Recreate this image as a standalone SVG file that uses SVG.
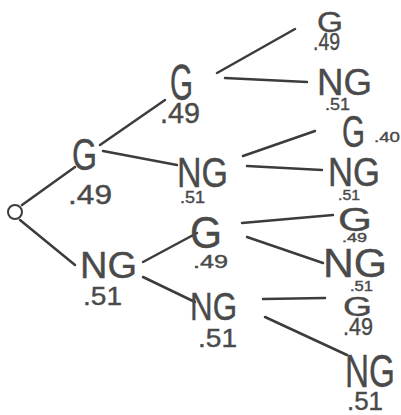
<svg xmlns="http://www.w3.org/2000/svg" width="401" height="415" viewBox="0 0 401 415">
<style>
text{font-family:"Liberation Sans",Arial,sans-serif;fill:#4a4a4a;stroke:#4a4a4a;stroke-width:0.4}
.c line{stroke:#3c3c3c;stroke-width:2.5;stroke-linecap:round}
</style>
<rect width="401" height="415" fill="#ffffff"/>
<g class="c" id="connectors">
<line x1="22" y1="205" x2="75" y2="167"/>
<line x1="20" y1="220" x2="75" y2="265"/>
<line x1="100" y1="145" x2="165" y2="100"/>
<line x1="103" y1="151" x2="177" y2="165"/>
<line x1="143" y1="262" x2="197" y2="233"/>
<line x1="143" y1="277" x2="195" y2="302"/>
<line x1="217" y1="73" x2="295" y2="29"/>
<line x1="225" y1="78" x2="307" y2="82"/>
<line x1="243" y1="156" x2="315" y2="131"/>
<line x1="247" y1="166" x2="322" y2="170"/>
<line x1="242" y1="223" x2="333" y2="215"/>
<line x1="247" y1="237" x2="323" y2="263"/>
<line x1="263" y1="299" x2="325" y2="298"/>
<line x1="265" y1="317" x2="347" y2="355"/>
</g>
<g id="root"><circle cx="15" cy="212" r="7" fill="none" stroke="#3c3c3c" stroke-width="2"/></g>
<g id="g1"><text x="72" y="170" font-size="44" textLength="25" lengthAdjust="spacingAndGlyphs">G</text><text x="68" y="204" font-size="28" textLength="44" lengthAdjust="spacingAndGlyphs">.49</text></g>
<g id="ng1"><text x="80" y="278" font-size="36" textLength="57" lengthAdjust="spacingAndGlyphs">NG</text><text x="83" y="305" font-size="25" textLength="39" lengthAdjust="spacingAndGlyphs">.51</text></g>
<g id="g2a"><text x="170" y="100" font-size="50" textLength="23" lengthAdjust="spacingAndGlyphs">G</text><text x="160" y="123" font-size="30" textLength="40" lengthAdjust="spacingAndGlyphs">.49</text></g>
<g id="ng2a"><text x="177" y="187" font-size="43" textLength="51" lengthAdjust="spacingAndGlyphs">NG</text><text x="180" y="203" font-size="16" textLength="25" lengthAdjust="spacingAndGlyphs">.51</text></g>
<g id="g2b"><text x="190" y="248" font-size="44" textLength="32" lengthAdjust="spacingAndGlyphs">G</text><text x="193" y="268" font-size="18" textLength="35" lengthAdjust="spacingAndGlyphs">.49</text></g>
<g id="ng2b"><text x="190" y="320" font-size="38" textLength="47" lengthAdjust="spacingAndGlyphs">NG</text><text x="198" y="347" font-size="26" textLength="39" lengthAdjust="spacingAndGlyphs">.51</text></g>
<g id="g3a"><text x="317" y="32" font-size="30" textLength="26" lengthAdjust="spacingAndGlyphs">G</text><text x="313" y="50" font-size="24" textLength="27" lengthAdjust="spacingAndGlyphs">.49</text></g>
<g id="ng3a"><text x="317" y="95" font-size="36" textLength="55" lengthAdjust="spacingAndGlyphs">NG</text><text x="325" y="110" font-size="17" textLength="25" lengthAdjust="spacingAndGlyphs">.51</text></g>
<g id="g3b"><text x="342" y="147" font-size="44" textLength="23" lengthAdjust="spacingAndGlyphs">G</text><text x="374" y="142" font-size="15" textLength="26" lengthAdjust="spacingAndGlyphs">.40</text></g>
<g id="ng3b"><text x="328" y="186" font-size="40" textLength="52" lengthAdjust="spacingAndGlyphs">NG</text><text x="338" y="200" font-size="15" textLength="22" lengthAdjust="spacingAndGlyphs">.51</text></g>
<g id="g3c"><text x="338" y="231" font-size="34" textLength="34" lengthAdjust="spacingAndGlyphs">G</text><text x="342" y="242" font-size="12" textLength="25" lengthAdjust="spacingAndGlyphs">.49</text></g>
<g id="ng3c"><text x="323" y="277" font-size="40" textLength="64" lengthAdjust="spacingAndGlyphs">NG</text><text x="350" y="291" font-size="14" textLength="23" lengthAdjust="spacingAndGlyphs">.51</text></g>
<g id="g3d"><text x="343" y="316" font-size="27" textLength="29" lengthAdjust="spacingAndGlyphs">G</text><text x="343" y="335" font-size="24" textLength="30" lengthAdjust="spacingAndGlyphs">.49</text></g>
<g id="ng3d"><text x="345" y="387" font-size="46" textLength="50" lengthAdjust="spacingAndGlyphs">NG</text><text x="347" y="410" font-size="26" textLength="36" lengthAdjust="spacingAndGlyphs">.51</text></g>
</svg>
